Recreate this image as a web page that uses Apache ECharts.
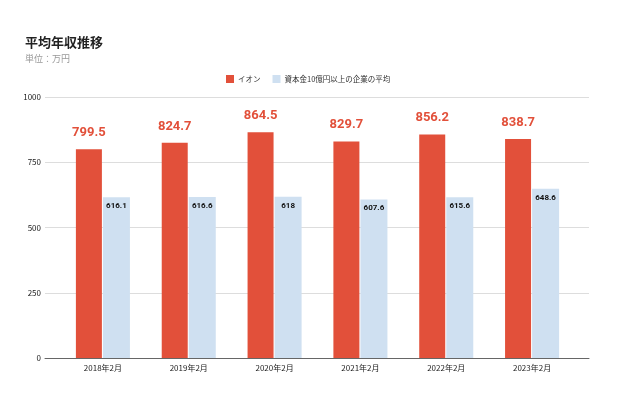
<!DOCTYPE html>
<html>
<head>
<meta charset="utf-8">
<script src="https://cdn.jsdelivr.net/npm/echarts@6/dist/echarts.min.js"></script>
<style>
  html, body { margin: 0; padding: 0; background: #fff; }
  #chart { width: 625px; height: 398px; }
</style>
</head>
<body>
<div id="chart"></div>
<script>
// データ
var categories = ['2018年2月', '2019年2月', '2020年2月', '2021年2月', '2022年2月', '2023年2月'];
var aeonValues = [799.5, 824.7, 864.5, 829.7, 856.2, 838.7];
var avgValues = [616.1, 616.6, 618, 607.6, 615.6, 648.6];
var seriesNames = ['イオン', '資本金10億円以上の企業の平均'];

var font = '"Noto Sans CJK JP", Roboto, sans-serif';

var myChart = echarts.init(document.getElementById('chart'));
myChart.setOption({
    textStyle: { fontFamily: font },
    title: {
        text: '平均年収推移',
        subtext: '単位：万円',
        left: 20,
        top: 31,
        itemGap: 5,
        textStyle: { fontSize: 13, fontWeight: 'bold', color: '#222', fontFamily: font },
        subtextStyle: { fontSize: 9, color: '#999', fontFamily: font }
    },
    legend: {
        top: 70,
        left: 221,
        itemWidth: 8,
        itemHeight: 8,
        itemGap: 12,
        icon: 'rect',
        textStyle: { fontSize: 7.5, color: '#333', fontFamily: font, padding: [0, 0, 0, -1] },
        data: seriesNames
    },
    // grid 0: 目盛り線と軸線 (広め), grid 1: 棒グラフ
    grid: [
        { left: 45, right: 36, top: 97, bottom: 40 },
        { left: 60, right: 50, top: 97, bottom: 40 }
    ],
    xAxis: [{
        gridIndex: 0,
        type: 'value',
        min: 0,
        max: 1,
        axisLine: { show: true, lineStyle: { color: '#666' } },
        axisTick: { show: false },
        axisLabel: { show: false },
        splitLine: { show: false }
    }, {
        gridIndex: 1,
        type: 'category',
        data: categories,
        axisLine: { show: false },
        axisTick: { show: false },
        axisLabel: { fontSize: 8, color: '#222', margin: 6 }
    }],
    yAxis: [{
        gridIndex: 0,
        type: 'value',
        min: 0,
        max: 1000,
        interval: 250,
        axisLine: { show: false },
        axisTick: { show: false },
        axisLabel: { fontSize: 8, color: '#222', margin: 4, formatter: function (v) { return String(v); } },
        splitLine: { lineStyle: { color: '#ddd' } }
    }, {
        gridIndex: 1,
        type: 'value',
        min: 0,
        max: 1000,
        interval: 250,
        show: false
    }],
    series: [{
        name: seriesNames[0],
        type: 'bar',
        xAxisIndex: 1,
        yAxisIndex: 1,
        data: aeonValues,
        barWidth: 26,
        barGap: '4%',
        itemStyle: { color: '#e2503a' },
        label: {
            show: true,
            position: 'top',
            distance: 10,
            fontSize: 13,
            fontWeight: 'bold',
            color: '#e2503a',
            fontFamily: 'Roboto, sans-serif'
        }
    }, {
        name: seriesNames[1],
        type: 'bar',
        xAxisIndex: 1,
        yAxisIndex: 1,
        data: avgValues,
        barWidth: 27,
        itemStyle: { color: '#cfe0f1' },
        label: {
            show: true,
            position: 'insideTop',
            distance: 5,
            fontSize: 8,
            fontWeight: 'bold',
            color: '#111',
            fontFamily: 'Roboto, sans-serif'
        }
    }]
});
</script>
</body>
</html>
